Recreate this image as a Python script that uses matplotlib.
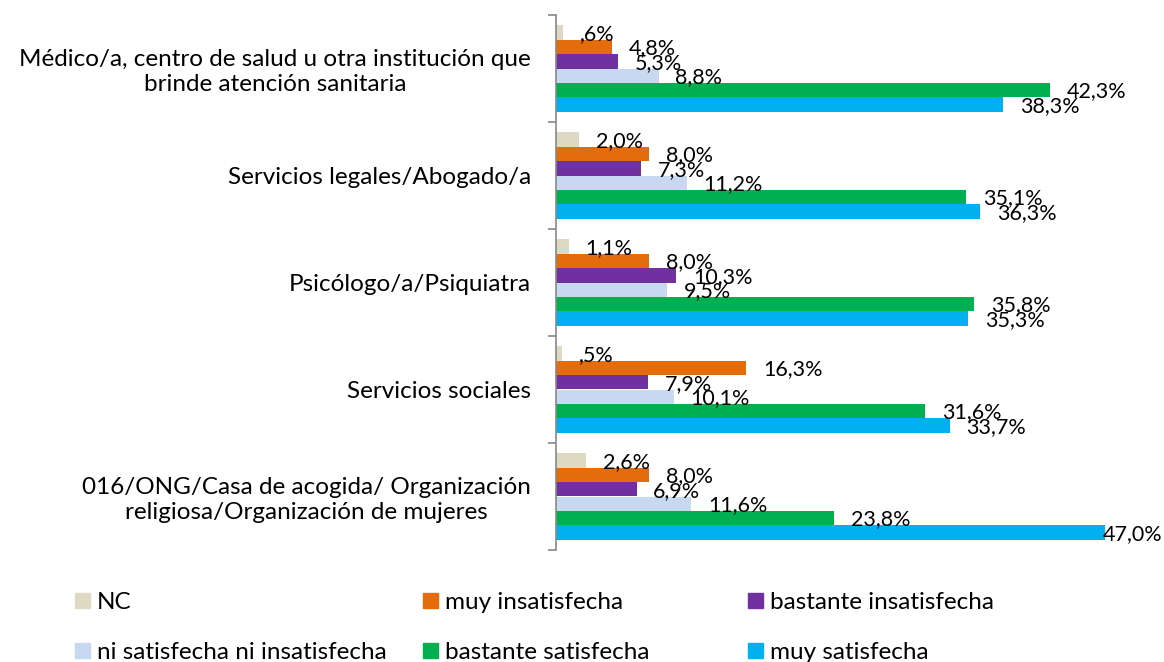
import matplotlib
matplotlib.use("Agg")
import matplotlib.pyplot as plt
import numpy as np
from matplotlib.patches import Patch

plt.rcParams.update({"font.family": ["Lato", "DejaVu Sans"], "font.size": 17.5})

categories = ["Médico/a, centro de salud u otra institución que\nbrinde atención sanitaria",
              "Servicios legales/Abogado/a",
              "Psicólogo/a/Psiquiatra",
              "Servicios sociales",
              "016/ONG/Casa de acogida/ Organización\nreligiosa/Organización de mujeres"]
series = ["NC", "muy insatisfecha", "bastante insatisfecha",
          "ni satisfecha ni insatisfecha", "bastante satisfecha", "muy satisfecha"]
colors = ["#DDD9C3", "#E46C0A", "#7030A0", "#C6D9F1", "#00B050", "#00B0F0"]

nc = [0.6, 2.0, 1.1, 0.5, 2.6]
muy_insat = [4.8, 8.0, 8.0, 16.3, 8.0]
bast_insat = [5.3, 7.3, 10.3, 7.9, 6.9]
ni_ni = [8.8, 11.2, 9.5, 10.1, 11.6]
bast_sat = [42.3, 35.1, 35.8, 31.6, 23.8]
muy_sat = [38.3, 36.3, 35.3, 33.7, 47.0]
values = [nc, muy_insat, bast_insat, ni_ni, bast_sat, muy_sat]

W, H = 1164, 662
fig = plt.figure(figsize=(W / 100, H / 100), dpi=100)
ax = fig.add_axes([556 / W, 1 - 550 / H, 1 - 556 / W, 535 / H])

y = np.arange(len(categories))
h = 0.134
labels = []
for j, (vals, c) in enumerate(zip(values, colors)):
    ypos = y + (j - 2.5) * h
    ax.barh(ypos, vals, height=h, color=c, label=series[j])
    for yy, v in zip(ypos, vals):
        lab = f"{v:.1f}".replace(".", ",")
        if lab.startswith("0"):
            lab = lab[1:]
        t = ax.annotate(lab + "%", (v, yy), xytext=(12, -1), textcoords="offset points",
                        ha="left", va="center", fontsize=15.5)
        labels.append(t)

ax.set_xlim(0, (W - 556) / 11.68)
ax.set_ylim(4.5, -0.5)
ax.set_xticks([])
ax.set_yticks(y, categories, multialignment="center")
ax.tick_params(axis="y", length=0, pad=18)
ax.set_yticks(np.arange(-0.5, 5, 1), minor=True)
ax.tick_params(axis="y", which="minor", length=6, color="#888888", width=1.2)
for s in ["top", "right", "bottom"]:
    ax.spines[s].set_visible(False)
ax.spines["left"].set_color("#888888")
ax.spines["left"].set_linewidth(1.2)

# legend, placed column by column
cols_x = [75 / W, 423 / W, 748 / W]
order = [(0, 3), (1, 4), (2, 5)]
for cx, (a, b) in zip(cols_x, order):
    hs = [Patch(color=colors[a]), Patch(color=colors[b])]
    fig.legend(hs, [series[a], series[b]], loc="upper left", bbox_to_anchor=(cx, 1 - 592 / H),
               frameon=False, handlelength=0.6, handleheight=0.6, handletextpad=0.3,
               labelspacing=1.2, borderaxespad=0, borderpad=0, fontsize=17.5)

# keep value labels inside the figure
fig.canvas.draw()
r = fig.canvas.get_renderer()
for t in labels:
    bb = t.get_window_extent(r)
    over = bb.x1 - (W - 2)
    if over > 0:
        dx, dy = t.xyann
        t.xyann = (dx - over * 72 / 100, dy)

fig.savefig("out.png", dpi=100)
